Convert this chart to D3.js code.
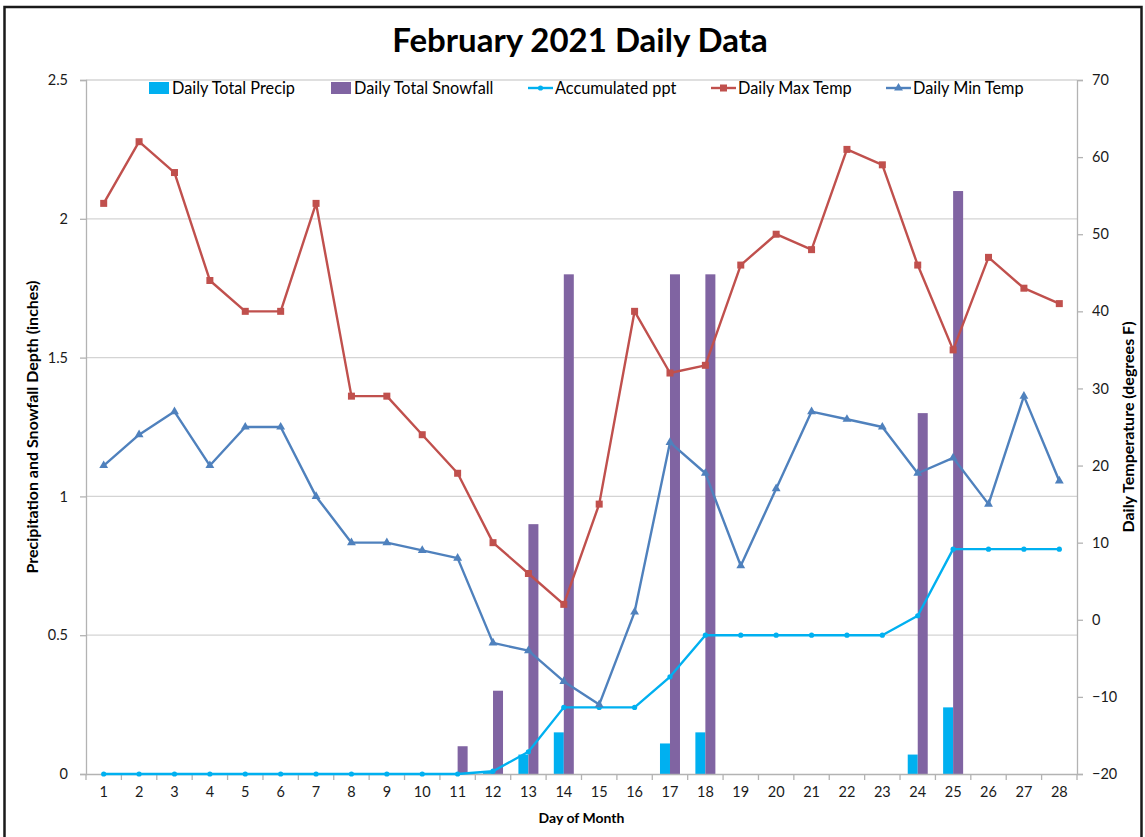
<!DOCTYPE html>
<html>
<head>
<meta charset="utf-8">
<script src="https://cdn.jsdelivr.net/npm/d3@7"></script>
<style>
  html, body { margin: 0; padding: 0; background: #fff; }
  svg { display: block; }
</style>
</head>
<body>
<svg id="chart" width="1145" height="837"></svg>
<script>
// ---------- DATA ----------
const days = d3.range(1, 29);
const dailyPrecip = [0,0,0,0,0,0,0,0,0,0,0,0.01,0.07,0.15,0,0,0.11,0.15,0,0,0,0,0,0.07,0.24,0,0,0];
const dailySnow   = [0,0,0,0,0,0,0,0,0,0,0.1,0.3,0.9,1.8,0,0,1.8,1.8,0,0,0,0,0,1.3,2.1,0,0,0];
const accumPpt    = [0,0,0,0,0,0,0,0,0,0,0,0.01,0.08,0.24,0.24,0.24,0.35,0.5,0.5,0.5,0.5,0.5,0.5,0.57,0.81,0.81,0.81,0.81];
const maxTemp     = [54,62,58,44,40,40,54,29,29,24,19,10,6,2,15,40,32,33,46,50,48,61,59,46,35,47,43,41];
const minTemp     = [20,24,27,20,25,25,16,10,10,9,8,-3,-4,-8,-11,1,23,19,7,17,27,26,25,19,21,15,29,18];
const leftTicks   = [0, 0.5, 1, 1.5, 2, 2.5];
const rightTicks  = [-20,-10,0,10,20,30,40,50,60,70];
const seriesNames = ["Daily Total Precip","Daily Total Snowfall","Accumulated ppt","Daily Max Temp","Daily Min Temp"];
const colors      = {precip:"#00B0F0", snow:"#8064A2", accum:"#00B0F0", max:"#C0504D", min:"#4F81BD"};

// ---------- LAYOUT ----------
const svg = d3.select("#chart");
const L = 86, R = 1077, T = 80, B = 774;
const labelFont = "Lato, 'Open Sans', sans-serif";
const textFont = "Lato, 'Open Sans', sans-serif";

// frame
svg.append("rect").attr("x",4.5).attr("y",7).attr("width",1137).attr("height",840)
  .attr("fill","none").attr("stroke","#1a1a1a").attr("stroke-width",2.5);

const x = d3.scaleBand().domain(days).range([L, R]).padding(0);
const bw = x.bandwidth();
const sub = d3.scaleBand().domain(["precip","snow"]).range([bw/2 - 10, bw/2 + 10]);
const yL = d3.scaleLinear().domain([0, 2.5]).range([B, T]);
const yR = d3.scaleLinear().domain([-20, 70]).range([B, T]);

// gridlines
svg.append("g").selectAll("line").data(leftTicks.filter(d => d > 0)).join("line")
  .attr("x1", L).attr("x2", R).attr("y1", d => yL(d)).attr("y2", d => yL(d))
  .attr("stroke", "#d4d4d4").attr("stroke-width", 1.3);

// title
svg.append("text").attr("x", 580).attr("y", 52).attr("text-anchor","middle")
  .attr("font-family", textFont).attr("font-weight","bold").attr("font-size", 33)
  .attr("fill","#000").text("February 2021 Daily Data");

// bars
const barData = days.map((d,i) => ({day:d, precip: dailyPrecip[i], snow: dailySnow[i]}));
svg.append("g").selectAll("rect.p").data(barData).join("rect")
  .attr("x", d => x(d.day) + sub("precip")).attr("width", sub.bandwidth())
  .attr("y", d => yL(d.precip)).attr("height", d => B - yL(d.precip))
  .attr("fill", colors.precip);
svg.append("g").selectAll("rect.s").data(barData).join("rect")
  .attr("x", d => x(d.day) + sub("snow")).attr("width", sub.bandwidth())
  .attr("y", d => yL(d.snow)).attr("height", d => B - yL(d.snow))
  .attr("fill", colors.snow);

// axes
const axisColor = "#b3b3b3";
const gLeft = svg.append("g").attr("transform", `translate(${L},0)`)
  .call(d3.axisLeft(yL).tickValues(leftTicks).tickSize(6).tickPadding(12).tickFormat(d3.format("~g")));
const gRight = svg.append("g").attr("transform", `translate(${R},0)`)
  .call(d3.axisRight(yR).tickValues(rightTicks).tickSize(6).tickPadding(9));
const gBottom = svg.append("g").attr("transform", `translate(0,${B})`)
  .call(d3.axisBottom(x).tickSize(0).tickPadding(13));
[gLeft, gRight, gBottom].forEach(g => {
  g.select(".domain").attr("stroke", axisColor).attr("stroke-width", 1.3);
  g.selectAll(".tick line").attr("stroke", axisColor).attr("stroke-width", 1.3);
  g.selectAll(".tick text").attr("font-family", labelFont).attr("font-size", 14.5).attr("fill", "#1a1a1a");
});
gBottom.select(".domain").attr("d", `M${L},0.5H${R}`);
// category boundary ticks on x axis
svg.append("g").selectAll("line").data(days.concat([null])).join("line")
  .attr("x1", d => d === null ? R : x(d)).attr("x2", d => d === null ? R : x(d))
  .attr("y1", B).attr("y2", B + 6).attr("stroke", axisColor).attr("stroke-width", 1.3);

// axis titles
svg.append("text").attr("transform", `translate(38,${(T+B)/2}) rotate(-90)`)
  .attr("text-anchor","middle").attr("font-family", textFont).attr("font-weight","bold")
  .attr("font-size", 16).attr("fill","#000").text("Precipitation and Snowfall Depth (inches)");
svg.append("text").attr("transform", `translate(1134,${(T+B)/2}) rotate(-90)`)
  .attr("text-anchor","middle").attr("font-family", textFont).attr("font-weight","bold")
  .attr("font-size", 16).attr("fill","#000").text("Daily Temperature (degrees F)");
svg.append("text").attr("x", (L+R)/2).attr("y", 823).attr("text-anchor","middle")
  .attr("font-family", textFont).attr("font-weight","bold").attr("font-size", 14)
  .attr("fill","#000").text("Day of Month");

// lines
const cx = d => x(d) + bw/2;
function drawLine(vals, scale, color, marker) {
  const pts = days.map((d,i) => [cx(d), scale(vals[i])]);
  svg.append("path").datum(pts).attr("d", d3.line())
    .attr("fill","none").attr("stroke", color).attr("stroke-width", 2.4).attr("stroke-linejoin","round");
  const g = svg.append("g");
  if (marker === "circle") {
    g.selectAll("circle").data(pts).join("circle").attr("cx", p => p[0]).attr("cy", p => p[1])
      .attr("r", 2.6).attr("fill", color);
  } else if (marker === "square") {
    g.selectAll("rect").data(pts).join("rect").attr("x", p => p[0]-3.5).attr("y", p => p[1]-3.5)
      .attr("width", 7).attr("height", 7).attr("fill", color);
  } else {
    const sym = d3.symbol().type(d3.symbolTriangle).size(34);
    g.selectAll("path").data(pts).join("path").attr("transform", p => `translate(${p[0]},${p[1]})`)
      .attr("d", sym).attr("fill", color);
  }
}
drawLine(accumPpt, yL, colors.accum, "circle");
drawLine(maxTemp, yR, colors.max, "square");
drawLine(minTemp, yR, colors.min, "triangle");

// legend
const legendItems = [
  {name: seriesNames[0], type:"rect", color: colors.precip, x: 149},
  {name: seriesNames[1], type:"rect", color: colors.snow, x: 331},
  {name: seriesNames[2], type:"line", color: colors.accum, marker:"circle", x: 528},
  {name: seriesNames[3], type:"line", color: colors.max, marker:"square", x: 711},
  {name: seriesNames[4], type:"line", color: colors.min, marker:"triangle", x: 886}
];
const ly = 88;
const lg = svg.append("g");
legendItems.forEach(it => {
  if (it.type === "rect") {
    lg.append("rect").attr("x", it.x).attr("y", ly-6).attr("width", 20).attr("height", 12).attr("fill", it.color);
  } else {
    lg.append("line").attr("x1", it.x).attr("x2", it.x+25).attr("y1", ly).attr("y2", ly)
      .attr("stroke", it.color).attr("stroke-width", 2.4);
    const mx = it.x + 12.5;
    if (it.marker === "circle") lg.append("circle").attr("cx", mx).attr("cy", ly).attr("r", 2.6).attr("fill", it.color);
    else if (it.marker === "square") lg.append("rect").attr("x", mx-3.5).attr("y", ly-3.5).attr("width",7).attr("height",7).attr("fill", it.color);
    else lg.append("path").attr("transform", `translate(${mx},${ly})`).attr("d", d3.symbol().type(d3.symbolTriangle).size(34)).attr("fill", it.color);
  }
  lg.append("text").attr("x", it.x + (it.type === "rect" ? 23 : 27)).attr("y", ly + 5.5)
    .attr("font-family", textFont).attr("font-size", 16.3).attr("fill","#000").text(it.name);
});
</script>
</body>
</html>
